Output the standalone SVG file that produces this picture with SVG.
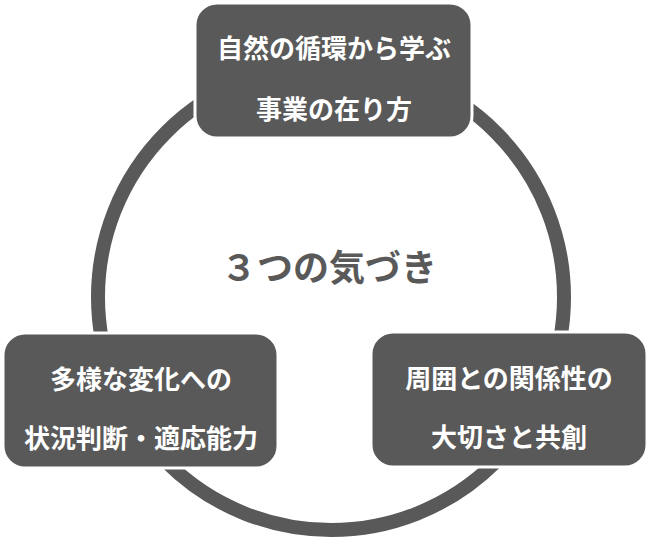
<svg xmlns="http://www.w3.org/2000/svg" width="650" height="549" viewBox="0 0 650 549">
<style>
.box{fill:#595959;stroke:#ffffff;stroke-width:3}
.lbl{fill:#ffffff;font-family:"Noto Sans CJK JP","Noto Sans",sans-serif;font-weight:bold;font-size:26px;text-anchor:middle;dominant-baseline:central}
.ring{fill:none;stroke:#595959;stroke-width:14}
.title{fill:#595959;font-family:"Noto Sans CJK JP","Noto Sans",sans-serif;font-weight:bold;font-size:36px;text-anchor:middle;dominant-baseline:central}
</style>
<rect width="650" height="549" fill="#ffffff"/>
<g id="connectors">
<circle class="ring" cx="331" cy="297" r="233"/>
</g>
<g id="center">
<text class="title" x="329" y="265">３つの気づき</text>
</g>
<g id="node-top">
<rect class="box" x="195" y="3" width="277" height="135" rx="22"/>
<text class="lbl" x="334" y="46">自然の循環から学ぶ</text>
<text class="lbl" x="334" y="107">事業の在り方</text>
</g>
<g id="node-left">
<rect class="box" x="3" y="333" width="275" height="135" rx="22"/>
<text class="lbl" x="141" y="377">多様な変化への</text>
<text class="lbl" x="141" y="436">状況判断・適応能力</text>
</g>
<g id="node-right">
<rect class="box" x="371" y="332" width="276" height="135" rx="22"/>
<text class="lbl" x="509" y="376">周囲との関係性の</text>
<text class="lbl" x="509" y="435">大切さと共創</text>
</g>
</svg>
